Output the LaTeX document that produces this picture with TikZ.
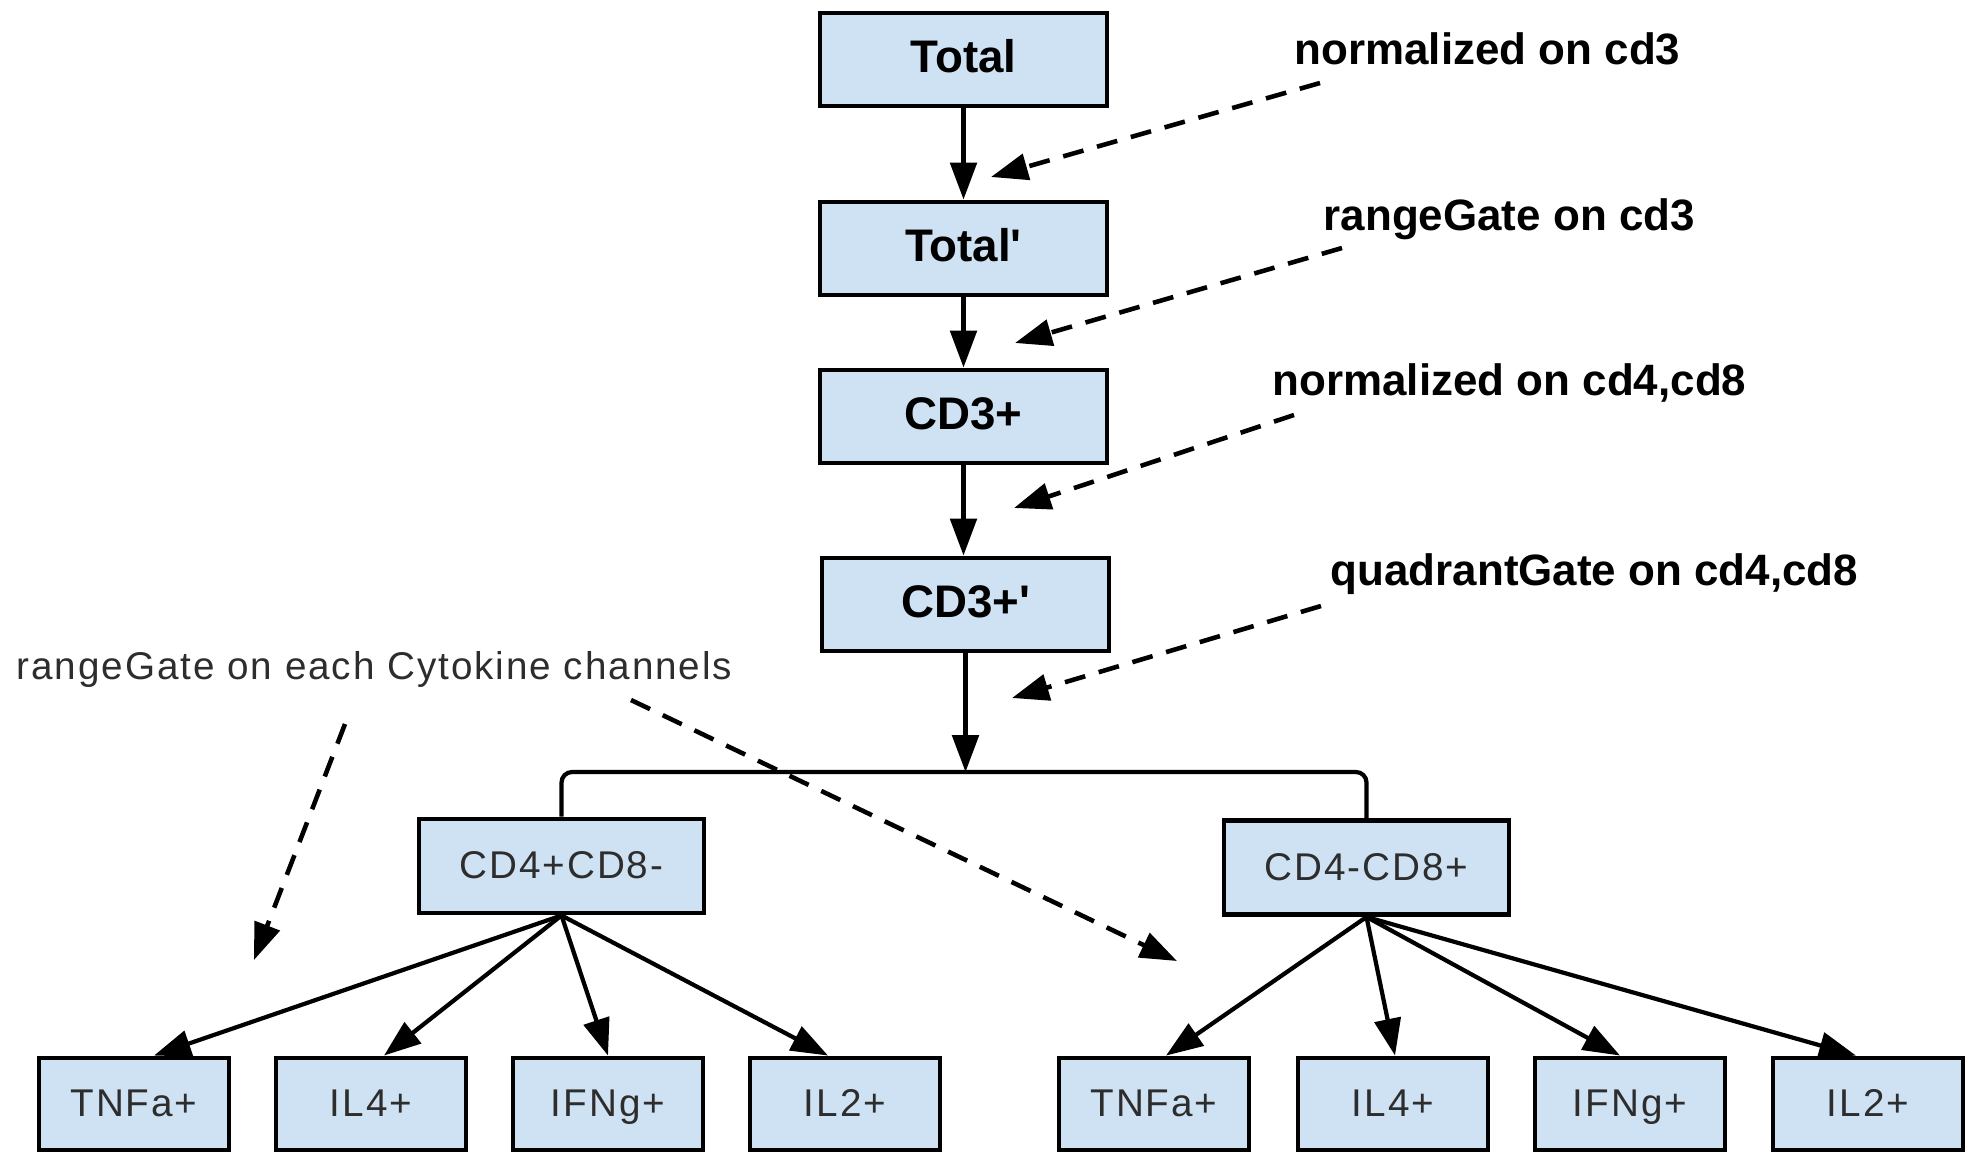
\documentclass[tikz,border=0pt]{standalone}
\usepackage{fontspec}
\setmainfont{Liberation Sans}[Ligatures=TeXOff]
\newfontfamily\thinfont{Liberation Sans}[LetterSpace=5,Ligatures=TeXOff]
\usetikzlibrary{arrows.meta, positioning}
\definecolor{gatefill}{RGB}{207, 226, 243}
\definecolor{thingray}{RGB}{45, 45, 45}

\tikzset{
  popbox/.style={draw, line width=1.4pt, fill=gatefill, minimum width=2.87cm, minimum height=0.93cm, inner sep=0pt, text height=0.72em, text depth=0pt, font=\fontsize{13}{15}\selectfont\bfseries},
  subbox/.style={popbox, minimum width=2.85cm, minimum height=0.94cm, font=\fontsize{11}{13}\selectfont\thinfont, text=thingray},
  leafbox/.style={subbox, minimum width=1.9cm, minimum height=0.92cm},
  gatenote/.style={anchor=base west, inner sep=0pt, font=\fontsize{12.5}{15}\selectfont\bfseries},
  flow/.style={line width=1.2pt, -{Triangle[length=10.5pt, width=7.5pt]}},
  gateptr/.style={flow, line width=1.3pt, dash pattern=on 6pt off 4pt},
}

\begin{document}
\begin{tikzpicture}
        \useasboundingbox (0,0) rectangle (19.72,-11.52);

        % Gating chain
        \node[popbox] (total)    at (9.635,-0.595) {Total};
        \node[popbox] (totalp)   at (9.635,-2.485) {Total'};
        \node[popbox] (cdthree)  at (9.635,-4.165) {CD3+};
        \node[popbox] (cdthreep) at (9.655,-6.045) {CD3+'};

        % Subsets
        \node[subbox] (cdfour)  at (5.615,-8.66)  {CD4+CD8-};
        \node[subbox] (cdeight) at (13.665,-8.675) {CD4-CD8+};

        % Cytokine leaves
        \foreach \lab/\x/\k in {TNFa+/1.34/1, IL4+/3.71/2, IFNg+/6.08/3, IL2+/8.45/4}
          \node[leafbox] (cfour\k) at (\x,-11.04) {\lab};
        \foreach \lab/\x/\k in {TNFa+/11.54/1, IL4+/13.93/2, IFNg+/16.30/3, IL2+/18.68/4}
          \node[leafbox] (ceight\k) at (\x,-11.04) {\lab};

        % Chain arrows
        \draw[flow] (total) -- (totalp);
        \draw[flow] (totalp) -- (cdthree);
        \draw[flow] (cdthree.south) -- (cdthree.south |- cdthreep.north);

        % Split into subsets
        \coordinate (split) at (9.655,-7.72);
        \draw[flow] (cdthreep.south) -- (split);
        \draw[line width=1.2pt, rounded corners=3pt] (cdfour.north) |- (split) -| (cdeight.north);

        % Subset to leaf arrows
        \foreach \k/\dx in {1/0.2, 2/0.13, 3/0, 4/-0.17}
          \draw[flow] (cdfour.south) -- ([xshift=\dx cm]cfour\k.north);
        \foreach \k/\dx in {1/0.12, 2/0.02, 3/-0.1, 4/-0.12}
          \draw[flow] (cdeight.south) -- ([xshift=\dx cm]ceight\k.north);

        % Gate notes
        \node[gatenote] (normthree)  at (12.94,-0.65) {normalized on cd3};
        \node[gatenote] (rangethree) at (13.23,-2.30) {rangeGate on cd3};
        \node[gatenote] (normfour)   at (12.72,-3.95) {normalized on cd4,cd8};
        \node[gatenote] (quadfour)   at (13.30,-5.85) {quadrantGate on cd4,cd8};
        \node[gatenote, font=\fontsize{11}{13}\selectfont\thinfont, text=thingray] (cytonote) at (0.16,-6.79) {rangeGate on each Cytokine channels};

        % Dashed pointers
        \coordinate (p1s) at (13.2,-0.83);   \coordinate (p1e) at (9.91,-1.77);
        \coordinate (p2s) at (13.42,-2.48);  \coordinate (p2e) at (10.15,-3.43);
        \coordinate (p3s) at (12.94,-4.15);  \coordinate (p3e) at (10.14,-5.08);
        \coordinate (p4s) at (13.21,-6.06);  \coordinate (p4e) at (10.12,-6.98);
        \coordinate (p5s) at (3.45,-7.24);   \coordinate (p5e) at (2.54,-9.6);
        \coordinate (p6s) at (6.31,-7.0);    \coordinate (p6e) at (11.77,-9.61);
        \foreach \k in {1,...,6}
          \draw[gateptr] (p\k s) -- (p\k e);
\end{tikzpicture}
\end{document}
